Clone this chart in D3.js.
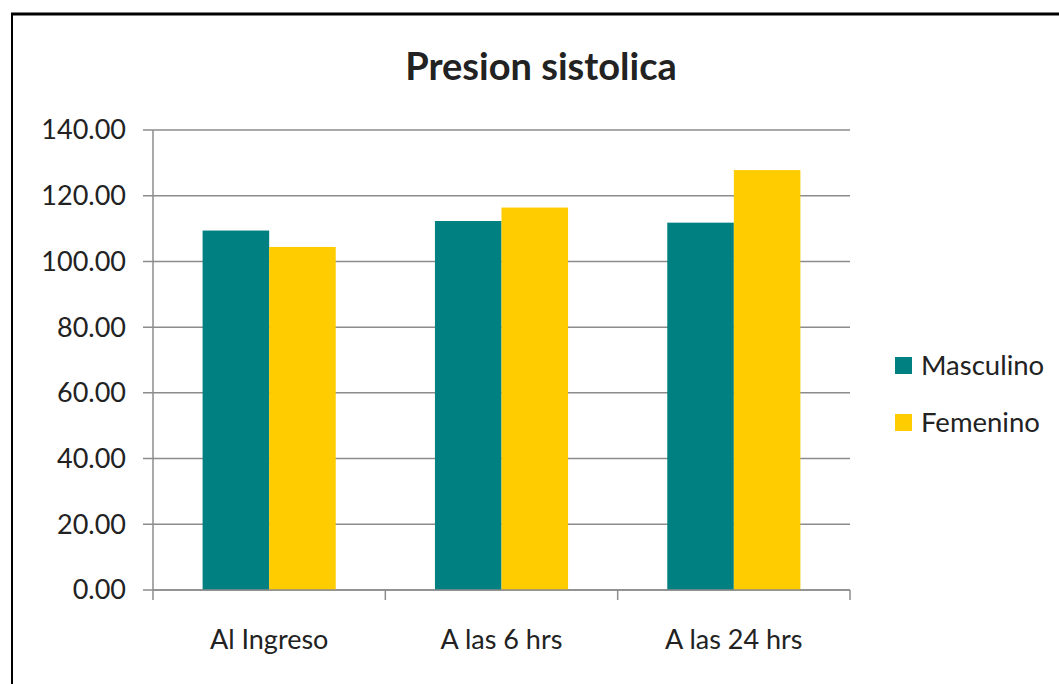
<!DOCTYPE html>
<html><head><meta charset="utf-8">
<script src="https://cdn.jsdelivr.net/npm/d3@7"></script>
<style>body{margin:0;background:#fff}svg{display:block}text{font-family:Lato,"Open Sans",sans-serif;fill:#222}</style>
</head><body>
<script>
const categories = ["Al Ingreso", "A las 6 hrs", "A las 24 hrs"];
const seriesNames = ["Masculino", "Femenino"];
const masculino = [109.4, 112.3, 111.8];
const femenino = [104.4, 116.4, 127.8];
const yTicks = [0, 20, 40, 60, 80, 100, 120, 140];
const colors = ["#008080", "#FFCC00"];
const values = [masculino, femenino];

const W = 1059, H = 684;
const svg = d3.select("body").append("svg").attr("width", W).attr("height", H);

// frame
svg.append("line").attr("x1", 11).attr("x2", W).attr("y1", 14).attr("y2", 14).attr("stroke", "#000").attr("stroke-width", 3);
svg.append("line").attr("x1", 12).attr("x2", 12).attr("y1", 13).attr("y2", H).attr("stroke", "#000").attr("stroke-width", 2);

const pLeft = 153, pRight = 850, pTop = 130, pBottom = 590;
const x0 = d3.scaleBand().domain(categories).range([pLeft, pRight]).paddingInner(0.427).paddingOuter(0.2135);
const x1 = d3.scaleBand().domain(seriesNames).range([0, x0.bandwidth()]);
const y = d3.scaleLinear().domain([0, 140]).range([pBottom, pTop]);

// gridlines
svg.append("g").selectAll("line").data(yTicks).join("line")
  .attr("x1", pLeft - 10).attr("x2", pRight)
  .attr("y1", d => y(d)).attr("y2", d => y(d))
  .attr("stroke", "#8c8c8c").attr("stroke-width", 1.5);

// y axis line
svg.append("line").attr("x1", pLeft).attr("x2", pLeft).attr("y1", pTop).attr("y2", pBottom)
  .attr("stroke", "#8c8c8c").attr("stroke-width", 1.5);

// y labels
svg.append("g").selectAll("text").data(yTicks).join("text")
  .attr("x", 126).attr("y", d => y(d)).attr("dy", "0.35em")
  .attr("text-anchor", "end").attr("font-size", 27).text(d => d3.format(".2f")(d));

// bars
const g = svg.append("g").selectAll("g").data(categories).join("g")
  .attr("transform", c => `translate(${x0(c)},0)`);
g.selectAll("rect").data((c, i) => seriesNames.map((s, k) => ({s, v: values[k][i], k}))).join("rect")
  .attr("x", d => x1(d.s)).attr("width", x1.bandwidth())
  .attr("y", d => y(d.v)).attr("height", d => y(0) - y(d.v))
  .attr("fill", d => colors[d.k]);

// x axis ticks
const step = x0.step();
const bounds = d3.range(categories.length + 1).map(i => pLeft + i * step);
svg.append("g").selectAll("line").data(bounds).join("line")
  .attr("x1", d => d).attr("x2", d => d).attr("y1", pBottom).attr("y2", pBottom + 10)
  .attr("stroke", "#8c8c8c").attr("stroke-width", 1.5);
svg.append("line").attr("x1", pLeft).attr("x2", pRight).attr("y1", pBottom).attr("y2", pBottom)
  .attr("stroke", "#8c8c8c").attr("stroke-width", 1.5);

// x labels
svg.append("g").selectAll("text").data(categories).join("text")
  .attr("x", c => x0(c) + x0.bandwidth() / 2).attr("y", 649)
  .attr("text-anchor", "middle").attr("font-size", 27).text(c => c);

// title
svg.append("text").attr("x", 541).attr("y", 80).attr("text-anchor", "middle")
  .attr("font-size", 38).attr("font-weight", "bold").attr("fill", "#000").text("Presion sistolica");

// legend
const leg = svg.append("g").selectAll("g").data(seriesNames).join("g")
  .attr("transform", (d, i) => `translate(895,${357 + i * 57})`);
leg.append("rect").attr("width", 17).attr("height", 17).attr("fill", (d, i) => colors[i]);
leg.append("text").attr("x", 26).attr("y", 18).attr("font-size", 27.5).text(d => d);
</script>
</body></html>
